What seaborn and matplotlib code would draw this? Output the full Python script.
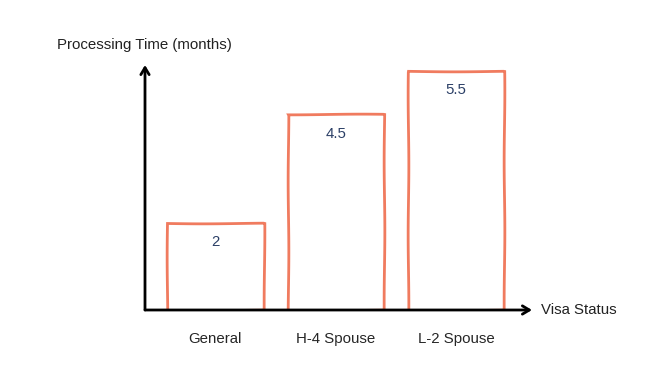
import matplotlib
matplotlib.use("Agg")
import matplotlib.pyplot as plt
import seaborn as sns

# data
categories = ["General", "H-4 Spouse", "L-2 Spouse"]
months = [2, 4.5, 5.5]

bar_color = "#f07b5f"
label_color = "#2b3f66"

sns.set_style("white")
plt.rcParams["font.family"] = ["Liberation Sans", "DejaVu Sans"]

fig = plt.figure(figsize=(6.72, 3.79), dpi=100)
ax = fig.add_axes([145 / 672, (379 - 310) / 379, (532 - 145) / 672, (310 - 65) / 379])

sns.barplot(x=categories, y=months, color=bar_color, fill=False,
            width=0.8, linewidth=2, ax=ax)

# slight hand-drawn wobble on the bar outlines
for patch in ax.patches:
    patch.set_sketch_params(0.35, 140, 1)

for i, v in enumerate(months):
    ax.annotate(f"{v:g}", xy=(i, v), xytext=(0, -9), textcoords="offset points",
                ha="center", va="top", fontsize=10.8, color=label_color)

ax.set_xlim(-0.585, 2.63)
ax.set_ylim(0, 5.63)
for s in ax.spines.values():
    s.set_visible(False)
ax.set_yticks([])
ax.tick_params(axis="x", length=0, pad=16, labelsize=10.8)
ax.set_xlabel("")
ax.set_ylabel("")

# axes drawn as arrows
arrow = dict(arrowstyle="->,head_length=0.5,head_width=0.3", color="black", lw=2,
             shrinkA=0, shrinkB=0)
ax.annotate("", xy=(1, 0), xytext=(0, 0), xycoords="axes fraction", arrowprops=arrow,
            annotation_clip=False)
ax.annotate("", xy=(0, 1), xytext=(0, 0), xycoords="axes fraction", arrowprops=arrow,
            annotation_clip=False)

fig.text(57 / 672, 1 - 45 / 379, "Processing Time (months)", ha="left", va="center",
         fontsize=10.8, color="#222222")
fig.text(541 / 672, 1 - 310 / 379, "Visa Status", ha="left", va="center",
         fontsize=10.8, color="#222222")

fig.savefig("out.png", dpi=100, facecolor="white")
